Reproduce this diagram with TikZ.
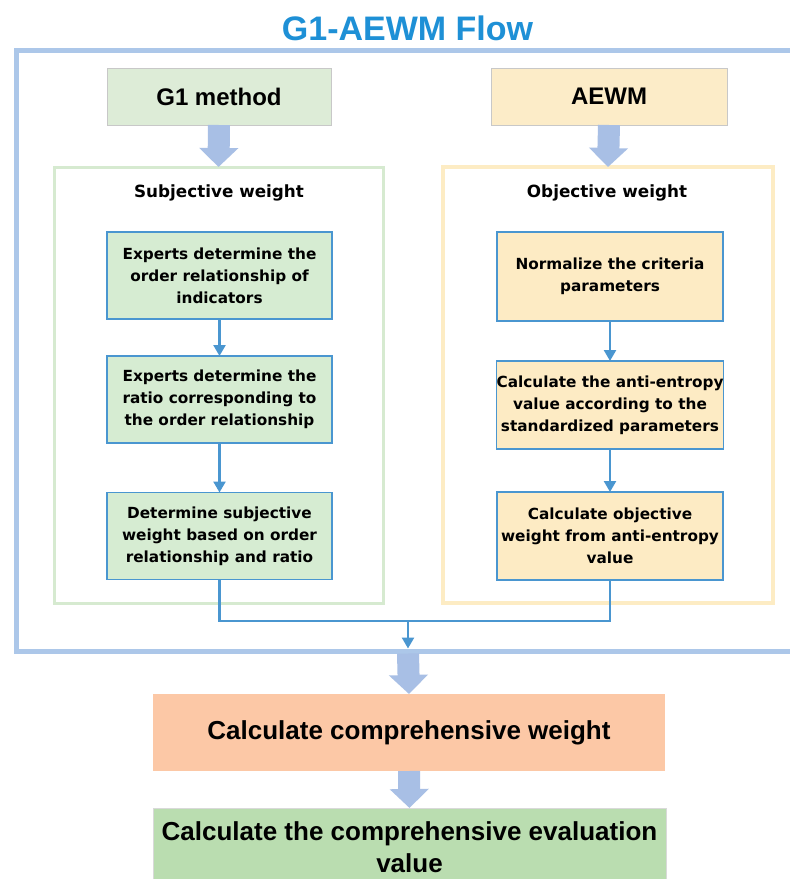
\documentclass[tikz,border=0pt]{standalone}
\usepackage{fontspec}
\setmainfont{Liberation Sans}
\newfontfamily\dvs{DejaVu Sans}
\usetikzlibrary{arrows.meta}
\definecolor{titleblue}{RGB}{30,144,214}
\definecolor{framebl}{RGB}{172,199,233}
\definecolor{fatbl}{RGB}{168,191,229}
\definecolor{gonefill}{RGB}{221,236,215}
\definecolor{aefill}{RGB}{252,236,200}
\definecolor{boxgray}{RGB}{200,200,200}
\definecolor{subfr}{RGB}{214,234,208}
\definecolor{objfr}{RGB}{253,236,196}
\definecolor{ingreen}{RGB}{214,236,210}
\definecolor{inyellow}{RGB}{253,235,196}
\definecolor{connbl}{RGB}{74,150,208}
\definecolor{orfill}{RGB}{252,200,166}
\definecolor{grfill}{RGB}{186,221,176}
\tikzset{
  framebox/.style={draw, rectangle, inner sep=0pt, outer sep=0pt},
  topbox/.style={framebox, draw=boxgray, line width=1pt, minimum height=57pt,
     font=\fontsize{24}{28}\selectfont\bfseries},
  innerbox/.style={framebox, draw=connbl, line width=1.6pt, minimum width=225pt,
     minimum height=87pt, align=center,
     font=\dvs\bfseries\fontsize{15.3}{22}\selectfont},
  fat/.style={draw=fatbl, line width=22pt,
     -{Triangle[width=38pt,length=19pt]}},
  conn/.style={draw=connbl, line width=2.4pt},
  connarr/.style={conn, -{Triangle[width=12pt,length=11pt]}},
  bigbox/.style={framebox, draw=none, minimum width=512pt, align=center,
     font=\fontsize{26}{32}\selectfont\bfseries},
  subhead/.style={font=\dvs\bfseries\fontsize{16.8}{20}\selectfont, inner sep=0pt}
}
\begin{document}
\begin{tikzpicture}[x=1pt,y=-1pt]
\useasboundingbox (0,0) rectangle (790,879);
\clip (0,0) rectangle (790,879);
\fill[white] (0,0) rectangle (790,879);

% title
\node[font=\fontsize{34}{38}\selectfont\bfseries, text=titleblue, inner sep=0pt]
  (title) at (407.5,28.5) {G1-AEWM Flow};

% outer frame
\node[framebox, draw=framebl, line width=5pt, minimum width=790pt, minimum height=601pt]
  (outer) at (411,350.5) {};

% top method boxes
\node[topbox, fill=gonefill, minimum width=224pt] (gone) at (219,96.5) {G1 method};
\node[topbox, fill=aefill, minimum width=236pt] (aewm) at (609,96.5) {AEWM};

% group frames
\node[framebox, draw=subfr, line width=3pt, minimum width=329pt, minimum height=436pt]
  (subframe) at (218.5,385) {};
\node[framebox, draw=objfr, line width=3.5pt, minimum width=330pt, minimum height=436pt]
  (objframe) at (608,385) {};

\draw[fat] (gone.south) -- (subframe.north);
\draw[fat] (aewm.south) -- (objframe.north);

\node[subhead] (subt) at (219,193) {Subjective weight};
\node[subhead] (objt) at (607,193) {Objective weight};

% left column
\node[innerbox, fill=ingreen] (L1) at (219.5,275.5)
  {Experts determine the\\order relationship of\\indicators};
\node[innerbox, fill=ingreen] (L2) at (219.5,399.5)
  {Experts determine the\\ratio corresponding to\\the order relationship};
\node[innerbox, fill=ingreen] (L3) at (219.5,536)
  {Determine subjective\\weight based on order\\relationship and ratio};

% right column
\node[innerbox, fill=inyellow, minimum width=226pt, minimum height=89pt] (R1) at (610,276.5)
  {Normalize the criteria\\parameters};
\node[innerbox, fill=inyellow, minimum width=226pt, minimum height=88pt] (R2) at (610,405)
  {Calculate the anti-entropy\\value according to the\\standardized parameters};
\node[innerbox, fill=inyellow, minimum width=226pt, minimum height=88pt] (R3) at (610,536)
  {Calculate objective\\weight from anti-entropy\\value};

\draw[connarr] (L1.south) -- (L2.north);
\draw[connarr] (L2.south) -- (L3.north);
\draw[connarr] (R1.south) -- (R2.north);
\draw[connarr] (R2.south) -- (R3.north);

% merge
\coordinate (join) at (408,621);
\draw[conn] (L3.south) |- (join) -| (R3.south);
\coordinate (joinend) at (408,648.5);
\draw[connarr] (join) -- (joinend);

% bottom boxes
\node[bigbox, fill=orfill, minimum height=77pt] (comp) at (409,732.5)
  {Calculate comprehensive weight};
\node[bigbox, fill=grfill, minimum width=513pt, minimum height=78pt, draw=boxgray!70, line width=0.8pt]
  (eval) at (409.5,847) {Calculate the comprehensive evaluation\\value};

\coordinate (fatstart) at (408,653.5);
\draw[fat] (fatstart) -- (comp.north);
\draw[fat] (comp.south) -- (eval.north);
\end{tikzpicture}
\end{document}
